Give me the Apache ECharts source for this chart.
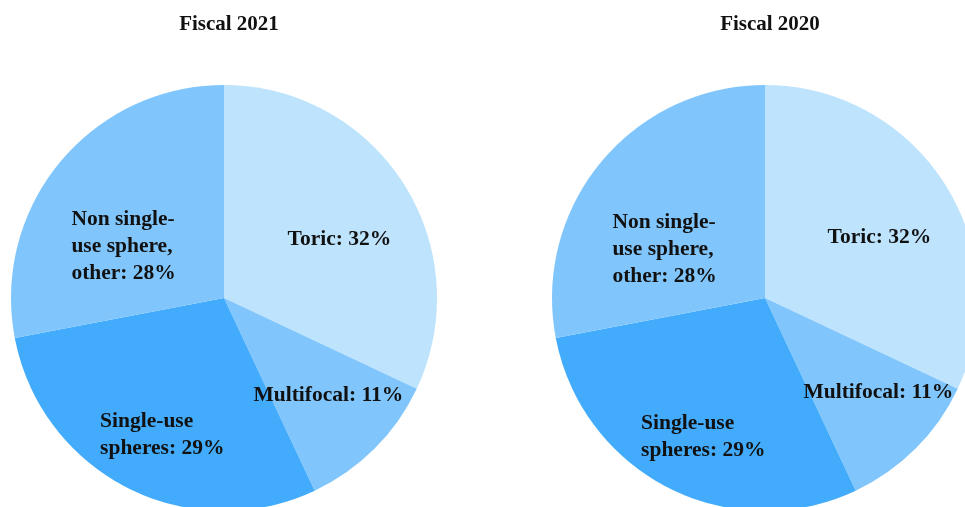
<!DOCTYPE html>
<html><head><meta charset="utf-8">
<script src="https://cdn.jsdelivr.net/npm/echarts@6/dist/echarts.min.js"></script>
<style>html,body{margin:0;padding:0;background:#fff}#c{width:965px;height:507px}</style>
</head><body><div id="c"></div>
<script>
const titles = ['Fiscal 2021', 'Fiscal 2020'];
const categories = ['Toric', 'Multifocal', 'Single-use spheres', 'Non single-use sphere, other'];
const labelLines = [['Toric: 32%'], ['Multifocal: 11%'], ['Single-use', 'spheres: 29%'], ['Non single-', 'use sphere,', 'other: 28%']];
const values2021 = [32, 11, 29, 28];
const values2020 = [32, 11, 29, 28];
const colors = ['#bee3fd', '#80c6fc', '#42abfb', '#80c6fc'];
// label nudges from default inside position
const nudges2021 = [[23, 0], [27, 20], [-12, 39], [-16, 18]];
const nudges2020 = [[22, -2], [36, 17], [-12, 41], [-16, 21]];

const centers = [[224, 298], [765, 298]];
const R = 213;
const font = '"Liberation Serif", "Times New Roman", serif';

function mkSeries(vals, center, nudges) {
  return {
    type: 'pie',
    center: center,
    radius: [0, R],
    startAngle: 90,
    clockwise: true,
    silent: true,
    animation: false,
    itemStyle: { borderWidth: 0 },
    label: {
      show: true, position: 'inside', color: '#111', fontFamily: font,
      fontWeight: 'bold', fontSize: 21.5, lineHeight: 27,
      formatter: p => labelLines[p.dataIndex].map(s => '{a|' + s + '}').join('\n'),
      rich: { a: { align: 'left', fontFamily: font, fontWeight: 'bold', fontSize: 21.5, lineHeight: 27, color: '#111' } }
    },
    labelLine: { show: false },
    labelLayout: p => ({ dx: nudges[p.dataIndex][0], dy: nudges[p.dataIndex][1] }),
    data: categories.map((c, i) => ({ name: c, value: vals[i], itemStyle: { color: colors[i] } }))
  };
}

const chart = echarts.init(document.getElementById('c'), null, { renderer: 'canvas' });
chart.setOption({
  backgroundColor: '#fff',
  title: titles.map((t, i) => ({
    text: t, left: centers[i][0], top: 9, textAlign: 'center',
    textStyle: { fontFamily: font, fontWeight: 'bold', fontSize: 21, color: '#111' }
  })),
  series: [mkSeries(values2021, centers[0], nudges2021), mkSeries(values2020, centers[1], nudges2020)]
});
</script></body></html>
